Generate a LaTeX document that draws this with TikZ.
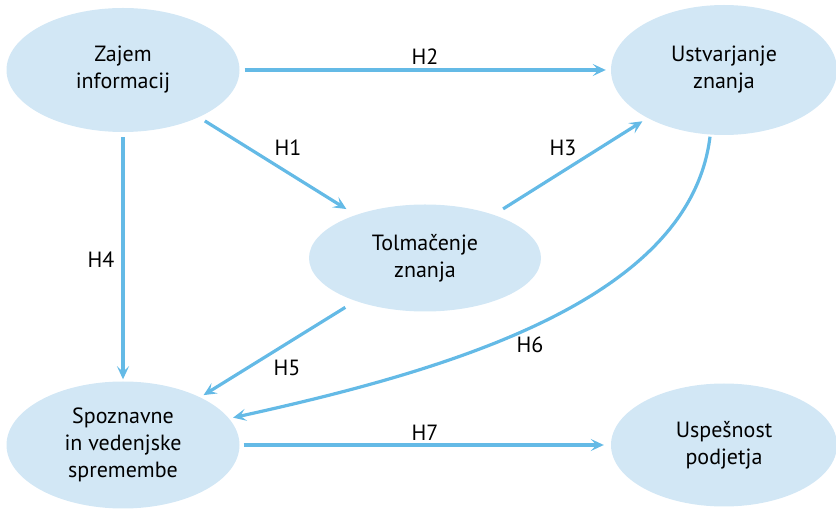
\documentclass[tikz,border=0pt]{standalone}
\usepackage{fontspec}
\setmainfont{PT Sans}
\usetikzlibrary{arrows.meta, shapes.geometric}

\definecolor{hypline}{RGB}{100,186,230}
\definecolor{constfill}{RGB}{210,231,245}

\begin{document}
\begin{tikzpicture}[
		x=1pt, y=-1pt,
		font=\fontsize{22}{27}\selectfont,
		construct/.style={
			ellipse,
			fill=constfill,
			align=center,
			inner sep=0pt,
			minimum width=233pt,
			minimum height=124pt
		},
		hyp/.style={
			-{Stealth[length=13pt, width=12pt, inset=5.5pt]},
			line width=3.2pt,
			draw=hypline,
			shorten <=5pt,
			shorten >=5pt
		},
		hlabel/.style={text=black}
		]
		\useasboundingbox (0,0) rectangle (836,510);
		
		% ---- Constructs ----
		\node[construct] (zajem) at (123,70) {Zajem\\informacij};
		\node[construct, minimum width=226pt, minimum height=130pt] (ustv) at (724,70) {Ustvarjanje\\znanja};
		\node[construct, minimum width=232pt, minimum height=107pt] (tolm) at (425,258) {Tolmačenje\\znanja};
		\node[construct, minimum height=127pt] (spoz) at (123,445) {Spoznavne\\in vedenjske\\spremembe};
		\node[construct, minimum width=226pt, minimum height=123pt] (usp) at (724,445) {Uspešnost\\podjetja};
		
		% ---- Hypotheses ----
		\draw[hyp] (zajem) -- (ustv);
		\draw[hyp, shorten <=7pt, shorten >=11pt] (zajem) -- (tolm);
		\draw[hyp, shorten <=11pt, shorten >=6pt] (tolm) -- (ustv);
		\draw[hyp, shorten >=2pt] (zajem) -- (spoz);
		\draw[hyp, shorten <=12pt, shorten >=4pt] (tolm) -- (spoz);
		\draw[hyp, shorten <=2pt, shorten >=4pt] (ustv.-102) .. controls (690,300) and (450,370) .. (spoz.14);
		\draw[hyp, shorten <=4pt, shorten >=7pt] (spoz) -- (usp);
		
		% ---- Labels ----
		\node[hlabel] (h2) at (425,57) {H2};
		\node[hlabel] (h1) at (288,148) {H1};
		\node[hlabel] (h3) at (563,148) {H3};
		\node[hlabel] (h4) at (101,260) {H4};
		\node[hlabel] (h5) at (287,368) {H5};
		\node[hlabel] (h6) at (530,345) {H6};
		\node[hlabel] (h7) at (425,433) {H7};
		
	\end{tikzpicture}
\end{document}
